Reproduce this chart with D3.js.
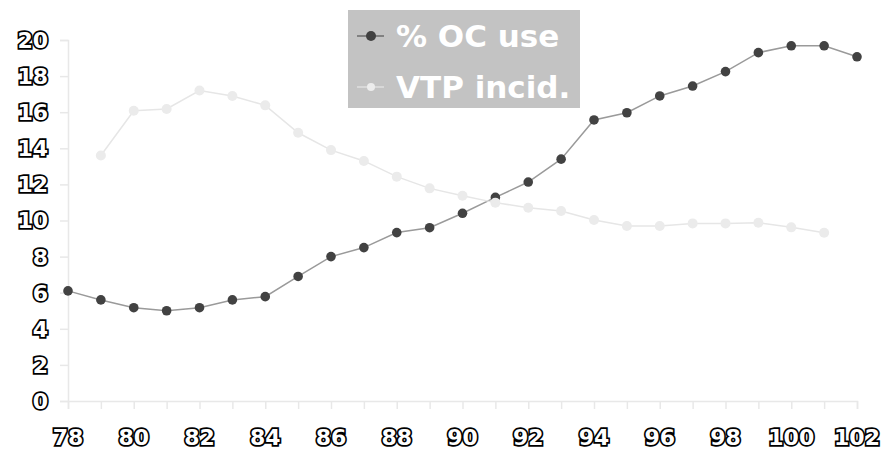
<!DOCTYPE html>
<html>
<head>
<meta charset="utf-8">
<script src="https://cdn.jsdelivr.net/npm/d3@7.9.0/dist/d3.min.js"></script>
<style>
  html, body { margin: 0; padding: 0; background: #fff; }
  svg { display: block; }
  .tick-label { font-family: "DejaVu Sans", sans-serif; font-weight: bold; font-size: 22px;
    fill: #fff; stroke: #000; stroke-width: 3.4px; paint-order: stroke; }
</style>
</head>
<body>
<svg id="chart" width="890" height="449"></svg>
<script>
// years on the x axis
const years = d3.range(78, 103);
const xTickLabels = ['78', '80', '82', '84', '86', '88', '90', '92', '94', '96', '98', '100', '102'];
const yTickLabels = [0, 2, 4, 6, 8, 10, 12, 14, 16, 18, 20];

// % OC use, 78..102
const ocUse = [6.1, 5.6, 5.17, 5.0, 5.17, 5.6, 5.78, 6.9, 8.0, 8.5, 9.33, 9.6, 10.4, 11.28,
  12.13, 13.4, 15.57, 15.97, 16.9, 17.45, 18.25, 19.3, 19.68, 19.68, 19.07];
// VTP incidence, 79..101
const vtpYears = d3.range(79, 102);
const vtpIncid = [13.6, 16.08, 16.18, 17.2, 16.9, 16.38, 14.86, 13.9, 13.3, 12.43, 11.78, 11.37,
  10.99, 10.71, 10.53, 10.03, 9.7, 9.7, 9.84, 9.84, 9.88, 9.62, 9.32];

const seriesNames = ['% OC use', 'VTP incid.'];

const svg = d3.select('#chart');

const x = d3.scaleLinear().domain([78, 102]).range([68, 857]);
const y = d3.scaleLinear().domain([0, 20]).range([401, 40]);

// axes
const yAxis = d3.axisLeft(y).tickValues(yTickLabels).tickSize(8).tickFormat('');
const xAxis = d3.axisBottom(x).tickValues(years).tickSize(8).tickFormat('');

svg.append('g').attr('transform', 'translate(68,0)').call(yAxis)
  .call(g => g.selectAll('line, path').attr('stroke', '#e8e8e8').attr('stroke-width', 1.5));
svg.append('g').attr('transform', 'translate(0,401)').call(xAxis)
  .call(g => g.selectAll('line, path').attr('stroke', '#e8e8e8').attr('stroke-width', 1.5));

svg.append('g').selectAll('text').data(yTickLabels).join('text')
  .attr('class', 'tick-label')
  .attr('x', 48).attr('y', d => y(d)).attr('dy', '0.36em')
  .attr('text-anchor', 'end')
  .text(d => d);

svg.append('g').selectAll('text').data(xTickLabels).join('text')
  .attr('class', 'tick-label')
  .attr('x', d => x(+d)).attr('y', 445)
  .attr('text-anchor', 'middle')
  .text(d => d);

const line = d3.line().x(d => x(d[0])).y(d => y(d[1]));

const ocData = years.map((yr, i) => [yr, ocUse[i]]);
const vtpData = vtpYears.map((yr, i) => [yr, vtpIncid[i]]);

// OC use series
svg.append('path').datum(ocData)
  .attr('d', line).attr('fill', 'none').attr('stroke', '#9a9a9a').attr('stroke-width', 1.5);
svg.append('g').selectAll('circle').data(ocData).join('circle')
  .attr('cx', d => x(d[0])).attr('cy', d => y(d[1])).attr('r', 4.8)
  .attr('fill', '#424242');

// VTP series
svg.append('path').datum(vtpData)
  .attr('d', line).attr('fill', 'none').attr('stroke', '#e6e6e6').attr('stroke-width', 1.5);
svg.append('g').selectAll('circle').data(vtpData).join('circle')
  .attr('cx', d => x(d[0])).attr('cy', d => y(d[1])).attr('r', 5)
  .attr('fill', '#ebebeb');

// legend
const legend = svg.append('g');
legend.append('rect')
  .attr('x', 348).attr('y', 10).attr('width', 232).attr('height', 98)
  .attr('fill', '#c3c3c3');

const legendStyles = [
  { line: '#555', dot: '#404040', r: 5 },
  { line: '#e6e6e6', dot: '#ececec', r: 4 }
];
seriesNames.forEach((name, i) => {
  const cy = 36 + i * 51;
  legend.append('line')
    .attr('x1', 357).attr('x2', 384).attr('y1', cy).attr('y2', cy)
    .attr('stroke', legendStyles[i].line).attr('stroke-width', 1.2);
  legend.append('circle')
    .attr('cx', 371).attr('cy', cy).attr('r', legendStyles[i].r)
    .attr('fill', legendStyles[i].dot);
  legend.append('text')
    .attr('x', 396).attr('y', cy + 11)
    .attr('font-family', '"DejaVu Sans", sans-serif')
    .attr('font-weight', 'bold')
    .attr('font-size', 31)
    .attr('fill', '#fff')
    .text(name);
});
</script>
</body>
</html>
